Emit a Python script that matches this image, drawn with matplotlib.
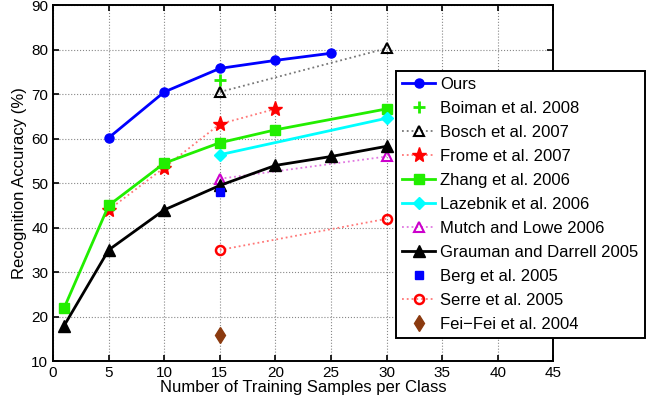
import matplotlib.pyplot as plt

plt.rcParams['font.family'] = ['Liberation Sans', 'DejaVu Sans']

# data
ours_x = [5, 10, 15, 20, 25]
ours_y = [60.2, 70.5, 75.8, 77.6, 79.2]
boiman_x = [15]
boiman_y = [73.2]
bosch_x = [15, 30]
bosch_y = [70.5, 80.3]
frome_x = [5, 10, 15, 20]
frome_y = [44.0, 53.5, 63.3, 66.7]
zhang_x = [1, 5, 10, 15, 20, 30]
zhang_y = [22.0, 45.0, 54.5, 59.1, 62.0, 66.7]
lazebnik_x = [15, 30]
lazebnik_y = [56.4, 64.6]
mutch_x = [15, 30]
mutch_y = [51.0, 56.0]
grauman_x = [1, 5, 10, 15, 20, 25, 30]
grauman_y = [18.0, 35.0, 44.0, 49.5, 54.0, 56.0, 58.3]
berg_x = [15]
berg_y = [48.0]
serre_x = [15, 30]
serre_y = [35.0, 42.0]
feifei_x = [15]
feifei_y = [16.0]

fig = plt.figure(figsize=(6.55, 4.0), dpi=100)
ax = fig.add_axes([0.081, 0.097, 0.764, 0.89])

ax.plot(ours_x, ours_y, '-o', color='#0000ff', lw=2, ms=6.5, label='Ours')
ax.plot(boiman_x, boiman_y, '+', color='#22ee00', ms=9, mew=2, label='Boiman et al. 2008')
# dotted connectors are drawn lighter than their markers
ax.plot(bosch_x, bosch_y, ':^', color='#777777', mec='black', lw=1.3, ms=7, mew=1.5,
        mfc='none', label='Bosch et al. 2007')
ax.plot(frome_x, frome_y, ':*', color='#ff7777', mec='#ff0000', mfc='#ff0000', lw=1.3,
        ms=11, label='Frome et al. 2007')
ax.plot(zhang_x, zhang_y, '-s', color='#22ee00', lw=2, ms=6.5, label='Zhang et al. 2006')
ax.plot(lazebnik_x, lazebnik_y, '-D', color='#00ffff', lw=2, ms=6.5, label='Lazebnik et al. 2006')
ax.plot(mutch_x, mutch_y, ':^', color='#e077e0', mec='#cc00cc', lw=1.3, ms=7, mew=1.5,
        mfc='none', label='Mutch and Lowe 2006')
ax.plot(grauman_x, grauman_y, '-^', color='black', lw=2, ms=8, label='Grauman and Darrell 2005')
ax.plot(berg_x, berg_y, 's', color='#0000ff', ms=6, label='Berg et al. 2005')
ax.plot(serre_x, serre_y, ':o', color='#ff7777', mec='#ff0000', lw=1.3, ms=6.5, mew=1.8,
        mfc='none', label='Serre et al. 2005')
ax.plot(feifei_x, feifei_y, 'd', color='#8b3a0f', ms=8, label='Fei\u2212Fei et al. 2004')

ax.set_xlim(0, 45)
ax.set_ylim(10, 90)
ax.set_xticks(range(0, 46, 5))
ax.set_yticks(range(10, 91, 10))
ax.grid(True, linestyle=':', color='#888888', lw=0.8)
ax.tick_params(direction='in', labelsize=11, length=4, width=1.2, top=True, right=True)
for s in ax.spines.values():
    s.set_linewidth(1.4)
ax.set_xlabel('Number of Training Samples per Class', fontsize=12, labelpad=0)
ax.set_ylabel('Recognition Accuracy (%)', fontsize=12, labelpad=3)

leg = fig.legend(loc='upper left', bbox_to_anchor=(0.605, 0.8225), fontsize=12,
                 frameon=True, fancybox=False, edgecolor='black', framealpha=1,
                 handlelength=2.0, labelspacing=0.54, borderpad=0.35, handletextpad=0.3,
                 borderaxespad=0)
leg.get_frame().set_linewidth(1.4)

fig.savefig('out.png', dpi=100)
